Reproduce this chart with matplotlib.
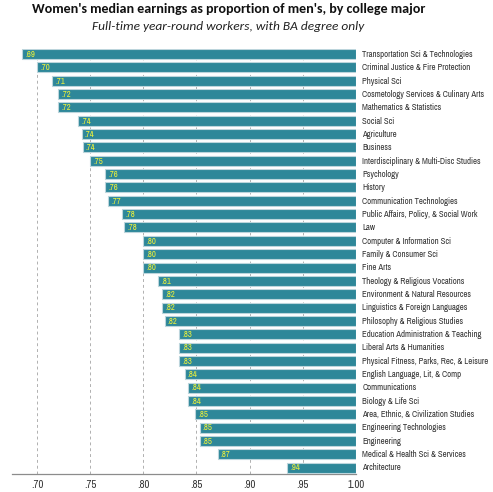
import matplotlib
matplotlib.use("Agg")
import matplotlib.pyplot as plt

# ---------- dados ----------
majors = [
    "Transportation Sci & Technologies", "Criminal Justice & Fire Protection",
    "Physical Sci", "Cosmetology Services & Culinary Arts",
    "Mathematics & Statistics", "Social Sci", "Agriculture", "Business",
    "Interdisciplinary & Multi-Disc Studies", "Psychology", "History",
    "Communication Technologies", "Public Affairs, Policy, & Social Work", "Law",
    "Computer & Information Sci", "Family & Consumer Sci", "Fine Arts",
    "Theology & Religious Vocations", "Environment & Natural Resources",
    "Linguistics & Foreign Languages", "Philosophy & Religious Studies",
    "Education Administration & Teaching", "Liberal Arts & Humanities",
    "Physical Fitness, Parks, Rec, & Leisure", "English Language, Lit, & Comp",
    "Communications", "Biology & Life Sci", "Area, Ethnic, & Civilization Studies",
    "Engineering Technologies", "Engineering", "Medical & Health Sci & Services",
    "Architecture",
]
ratio = [0.686, 0.700, 0.714, 0.720, 0.720, 0.739, 0.742, 0.743,
         0.750, 0.764, 0.764, 0.767, 0.780, 0.782,
         0.800, 0.800, 0.800, 0.814, 0.818, 0.818, 0.820,
         0.834, 0.834, 0.834, 0.839, 0.842, 0.842, 0.849,
         0.853, 0.853, 0.870, 0.935]
ticks = [0.70, 0.75, 0.80, 0.85, 0.90, 0.95, 1.00]
tick_lbl = [".70", ".75", ".80", ".85", ".90", ".95", "1.00"]

NARROW = ["Archivo Narrow", "PT Sans Narrow", "Liberation Sans"]
CAL = ["Carlito", "Liberation Sans"]

BAR = "#2e8799"
EDGE = "#bcd5dc"
YEL = "#eef23a"
INK = "#333333"

fig = plt.figure(figsize=(4.93, 4.92), dpi=100)
ax = fig.add_axes([12/493, 1-474/492, (356-12)/493, (474-49)/492])

ypos = list(range(len(majors)))
widths = [1.0 - r for r in ratio]
ax.barh(ypos, widths, left=ratio, height=0.75, color=BAR,
        edgecolor=EDGE, linewidth=0.8, zorder=3)

for y, r, name in zip(ypos, ratio, majors):
    ax.text(r + 0.003, y + 0.03, f"{r:.2f}"[1:], color=YEL, fontsize=6.3,
            fontweight="bold", family=NARROW, va="center", ha="left", zorder=4)
    ax.text(1.006, y + 0.03, name, color=INK, fontsize=6.3,
            family=NARROW, va="center", ha="left", clip_on=False)

ax.set_xlim(0.6765, 1.0)
ax.set_ylim(31.48, -0.38)
ax.set_xticks(ticks)
ax.set_xticklabels(tick_lbl, family=NARROW, fontsize=7.8, color=INK)
ax.tick_params(axis="x", length=0, pad=4)
ax.set_yticks([])
for t in ticks:
    ax.axvline(t, color="#b0b0b0", lw=0.7, ls=(0, (3, 3)), zorder=1)
for s in ["top", "left", "right"]:
    ax.spines[s].set_visible(False)
ax.spines["bottom"].set_color("#8c8c8c")
ax.spines["bottom"].set_linewidth(0.9)

fig.text(0.463, 1-9/492, "Women's median earnings as proportion of men's, by college major",
         ha="center", va="center", fontsize=10.1, fontweight="bold",
         family=CAL, color="#111111")
fig.text(0.463, 1-26/492, "Full-time year-round workers, with BA degree only",
         ha="center", va="center", fontsize=9.6, style="italic",
         family=CAL, color="#222222")

fig.savefig("out.png", dpi=100, facecolor="white")
